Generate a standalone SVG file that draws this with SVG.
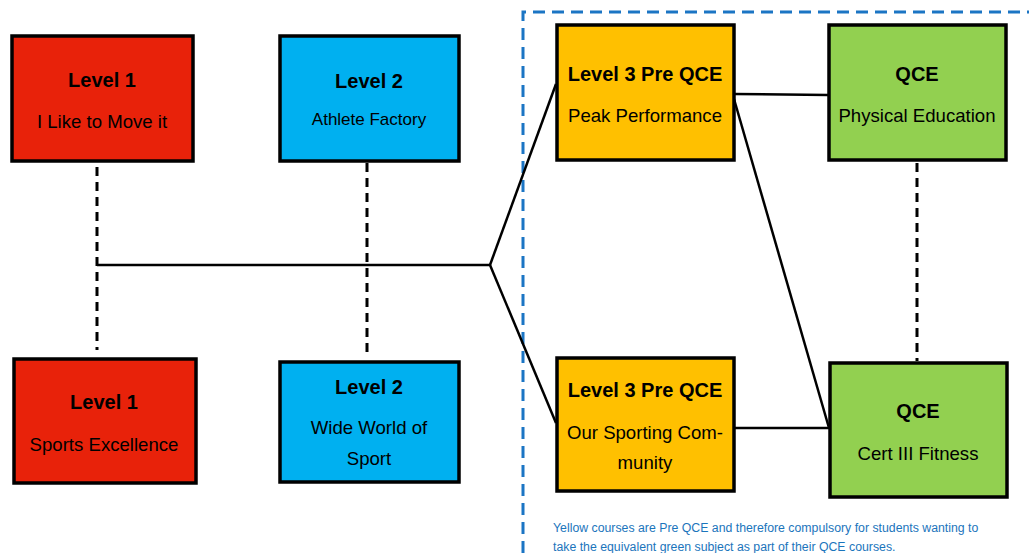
<svg xmlns="http://www.w3.org/2000/svg" width="1029" height="553" viewBox="0 0 1029 553">
<style>
.box{stroke:#000;stroke-width:3.5}
.red{fill:#e8220a}.blue{fill:#00b0f0}.yellow{fill:#ffc000}.green{fill:#92d050}
.t{font-family:"Liberation Sans",Arial,sans-serif;fill:#000;text-anchor:middle}
.h{font-size:20px;font-weight:bold}
.s{font-size:18.6px}
.ln{stroke:#000;stroke-width:2.5;fill:none}
.dash{stroke:#000;stroke-width:3;stroke-dasharray:9,6;fill:none}
.note{font-family:"Liberation Sans",Arial,sans-serif;font-size:12.3px;fill:#1b75bc}
</style>
<rect width="1029" height="553" fill="#fff"/>
<path d="M523,553 V12 H1029" fill="none" stroke="#1b75c4" stroke-width="3" stroke-dasharray="12,7"/>
<g id="connectors">
<line class="dash" x1="97" y1="167" x2="97" y2="350"/>
<line class="dash" x1="367" y1="163" x2="367" y2="358"/>
<line class="dash" x1="917" y1="163" x2="917" y2="361"/>
<line class="ln" x1="97" y1="265" x2="490" y2="265"/>
<line class="ln" x1="490" y1="265" x2="556" y2="84"/>
<line class="ln" x1="490" y1="265" x2="556" y2="423"/>
<line class="ln" x1="734" y1="94" x2="828" y2="95"/>
<line class="ln" x1="734" y1="99" x2="829" y2="428"/>
<line class="ln" x1="734" y1="428" x2="829" y2="428"/>
</g>
<g id="n1"><rect class="box red" x="12" y="36" width="181" height="125"/>
<text class="t h" x="102" y="87">Level 1</text><text class="t s" x="102" y="128">I Like to Move it</text></g>
<g id="n2"><rect class="box blue" x="280" y="36" width="179" height="125"/>
<text class="t h" x="369" y="88">Level 2</text><text class="t" style="font-size:17px" x="369" y="125">Athlete Factory</text></g>
<g id="n3"><rect class="box red" x="14" y="359" width="182" height="124"/>
<text class="t h" x="104" y="409">Level 1</text><text class="t s" x="104" y="451">Sports Excellence</text></g>
<g id="n4"><rect class="box blue" x="280" y="362" width="179" height="120"/>
<text class="t h" x="369" y="394">Level 2</text><text class="t s" x="369" y="434">Wide World of</text><text class="t s" x="369" y="465">Sport</text></g>
<g id="n5"><rect class="box yellow" x="557" y="25" width="177" height="135"/>
<text class="t h" x="645" y="81">Level 3 Pre QCE</text><text class="t s" x="645" y="122">Peak Performance</text></g>
<g id="n6"><rect class="box green" x="829" y="25" width="177" height="135"/>
<text class="t h" x="917" y="81">QCE</text><text class="t s" x="917" y="122">Physical Education</text></g>
<g id="n7"><rect class="box yellow" x="557" y="358" width="177" height="133"/>
<text class="t h" x="645" y="397">Level 3 Pre QCE</text><text class="t s" x="645" y="439">Our Sporting Com-</text><text class="t s" x="645" y="469">munity</text></g>
<g id="n8"><rect class="box green" x="830" y="363" width="177" height="134"/>
<text class="t h" x="918" y="418">QCE</text><text class="t s" x="918" y="460">Cert III Fitness</text></g>
<g id="note">
<text class="note" x="553" y="532">Yellow courses are Pre QCE and therefore compulsory for students wanting to</text>
<text class="note" x="553" y="551">take the equivalent green subject as part of their QCE courses.</text>
</g>
</svg>
